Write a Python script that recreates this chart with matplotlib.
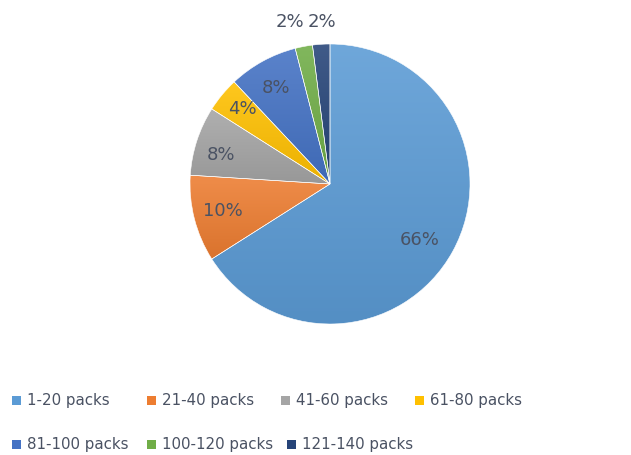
import numpy as np
import matplotlib
matplotlib.use("Agg")
import matplotlib.pyplot as plt
from matplotlib.patches import Rectangle
from matplotlib.colors import to_rgb, LinearSegmentedColormap

categories = ["1-20 packs", "21-40 packs", "41-60 packs", "61-80 packs",
              "81-100 packs", "100-120 packs", "121-140 packs"]
shares = [66, 10, 8, 4, 8, 2, 2]
colors = ["#5B9BD5", "#ED7D31", "#A5A5A5", "#FFC000",
          "#4472C4", "#70AD47", "#264478"]

W, H = 631, 456
fig = plt.figure(figsize=(W / 100, H / 100), dpi=100)
fig.patch.set_facecolor("white")

# pie axes: centre (330, 185) px, radius 140 px
cx, cy, r = 330, 185, 140
ax = fig.add_axes([(cx - r) / W, (H - cy - r) / H, 2 * r / W, 2 * r / H])
ax.set_xlim(-1, 1)
ax.set_ylim(-1, 1)
ax.set_aspect("equal")
ax.axis("off")

wedges, _ = ax.pie(shares, colors=colors, startangle=90, counterclock=False,
                   radius=1, center=(0, 0), frame=False,
                   wedgeprops=dict(edgecolor="white", linewidth=0.4))


def mix(c, t, k):
    c = np.array(to_rgb(c)); t = np.array(to_rgb(t))
    return tuple(c * (1 - k) + t * k)


# vertical gradient fill inside each slice (lighter on top, darker below)
grad = np.linspace(0, 1, 256).reshape(-1, 1)
for w, col in zip(wedges, colors):
    verts = w.get_path().vertices
    x0, x1 = verts[:, 0].min(), verts[:, 0].max()
    y0, y1 = verts[:, 1].min(), verts[:, 1].max()
    cmap = LinearSegmentedColormap.from_list(
        "g", [mix(col, "white", 0.12), mix(col, "black", 0.08)])
    im = ax.imshow(grad, cmap=cmap, extent=(x0, x1, y0, y1),
                   origin="upper", aspect="auto", zorder=w.get_zorder() + 0.1,
                   interpolation="bilinear")
    im.set_clip_path(w)
    w.set_facecolor("none")
    w.set_zorder(w.get_zorder() + 0.2)
ax.set_xlim(-1, 1)
ax.set_ylim(-1, 1)

# value labels
label_color = "#4a5263"
total = sum(shares)
start = 90.0
radial = [0.754, 0.786, 0.807, 0.83, 0.79, 1.2, 1.165]
shift = [-2.6, -0.7, 2.6, -1.2, 0.4, 3.0, -0.8]
for i, v in enumerate(shares):
    sweep = 360.0 * v / total
    mid = start - sweep / 2 + shift[i]
    start -= sweep
    a = np.deg2rad(mid)
    ax.text(radial[i] * np.cos(a), radial[i] * np.sin(a), f"{v}%",
            ha="center", va="center", fontsize=13, color=label_color,
            family="DejaVu Sans", zorder=10, clip_on=False)

# legend, two rows
sq_x = [[12, 147, 281, 415], [12, 147, 287]]
row_y = [401, 445]
idx = 0
for row, xs in enumerate(sq_x):
    for x in xs:
        y = row_y[row]
        fig.add_artist(Rectangle(((x) / W, (H - y - 4.5) / H), 9 / W, 9 / H,
                                 transform=fig.transFigure,
                                 facecolor=colors[idx], edgecolor="none"))
        fig.text((x + 15) / W, (H - y) / H, categories[idx], ha="left",
                 va="center", fontsize=10.8, color=label_color,
                 family="DejaVu Sans")
        idx += 1

fig.savefig("out.png", dpi=100)
